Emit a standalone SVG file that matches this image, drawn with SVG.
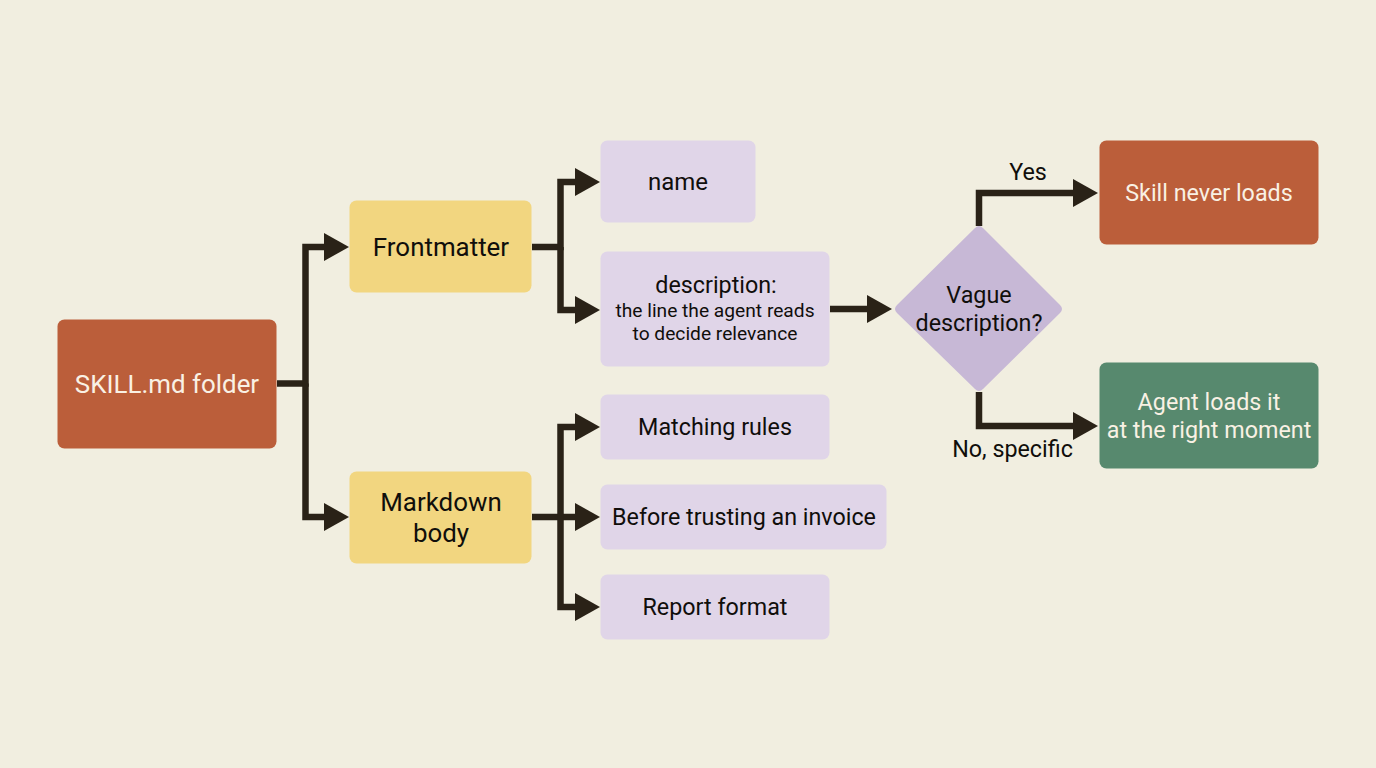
<svg xmlns="http://www.w3.org/2000/svg" width="1376" height="768" viewBox="0 0 1376 768">
<style>
text{font-family:Roboto,"Liberation Sans",sans-serif;text-anchor:middle;fill:#100e0b;font-size:23.300px}
.w{fill:#f9f1e4}
.b{font-size:25.900px}
.s{font-size:19.200px}
.c path{fill:none;stroke:#2a2217;stroke-width:6.5}
.c polygon{fill:#2a2217}
.r{fill:#bb5e3a}.y{fill:#f2d680}.l{fill:#e0d5e8}
</style>
<rect width="1376" height="768" fill="#f1eee0"/>
<g class="c" id="connectors">
<path d="M277 383.500H305.500V247H325"/><path d="M305.500 383.500V517H325"/>
<path d="M532 247H560.500V182H577"/><path d="M560.500 247V310H577"/>
<path d="M532 517H577"/><path d="M560.500 517V427H577"/><path d="M560.500 517V607H577"/>
<path d="M830 309H868"/>
<path d="M979 226V193H1075"/><path d="M979 392V426H1075"/>
<polygon points="324,233 349,247 324,261"/>
<polygon points="324,503 349,517 324,531"/>
<polygon points="575,168 600,182 575,196"/>
<polygon points="575,296 600,310 575,324"/>
<polygon points="575,413 600,427 575,441"/>
<polygon points="575,503 600,517 575,531"/>
<polygon points="575,593 600,607 575,621"/>
<polygon points="867,295 892,309 867,323"/>
<polygon points="1073,179 1098,193 1073,207"/>
<polygon points="1073,412 1098,426 1073,440"/>
</g>
<g id="skill"><rect class="r" x="57.500" y="319.500" width="219" height="129" rx="7"/><text class="w b" x="167" y="393">SKILL.md folder</text></g>
<g id="frontmatter"><rect class="y" x="349.500" y="200.500" width="182" height="92" rx="7"/><text class="b" x="441" y="256">Frontmatter</text></g>
<g id="markdown"><rect class="y" x="349.500" y="471.500" width="182" height="92" rx="7"/><text class="b" x="441" y="511">Markdown</text><text class="b" x="441" y="542">body</text></g>
<g id="name"><rect class="l" x="600.500" y="140.500" width="155" height="82" rx="7"/><text x="678" y="190" style="font-size:24px">name</text></g>
<g id="description"><rect class="l" x="600.500" y="251.500" width="229" height="115" rx="7"/><text x="716" y="293">description:</text><text class="s" x="715" y="317">the line the agent reads</text><text class="s" x="715" y="340">to decide relevance</text></g>
<g id="matching"><rect class="l" x="600.500" y="394.500" width="229" height="65" rx="7"/><text x="715" y="435">Matching rules</text></g>
<g id="before"><rect class="l" x="600.500" y="484.500" width="286" height="65" rx="7"/><text x="744" y="525">Before trusting an invoice</text></g>
<g id="report"><rect class="l" x="600.500" y="574.500" width="229" height="65" rx="7"/><text x="715" y="615">Report format</text></g>
<g id="vague"><path d="M975 228Q979 224 983 228L1060 305Q1064 309 1060 313L983 389Q979 393 975 389L897 313Q893 309 897 305Z" fill="#c7b8d6"/><text x="979" y="303">Vague</text><text x="979" y="331">description?</text></g>
<g id="never"><rect class="r" x="1099.500" y="140.500" width="219" height="104" rx="7"/><text class="w" x="1209" y="201">Skill never loads</text></g>
<g id="loads"><rect x="1099.500" y="362.500" width="219" height="106" rx="7" fill="#57896e"/><text class="w" x="1209" y="410">Agent loads it</text><text class="w" x="1209" y="438">at the right moment</text></g>
<text x="1028" y="180">Yes</text>
<text x="1012.500" y="457">No, specific</text>
</svg>
